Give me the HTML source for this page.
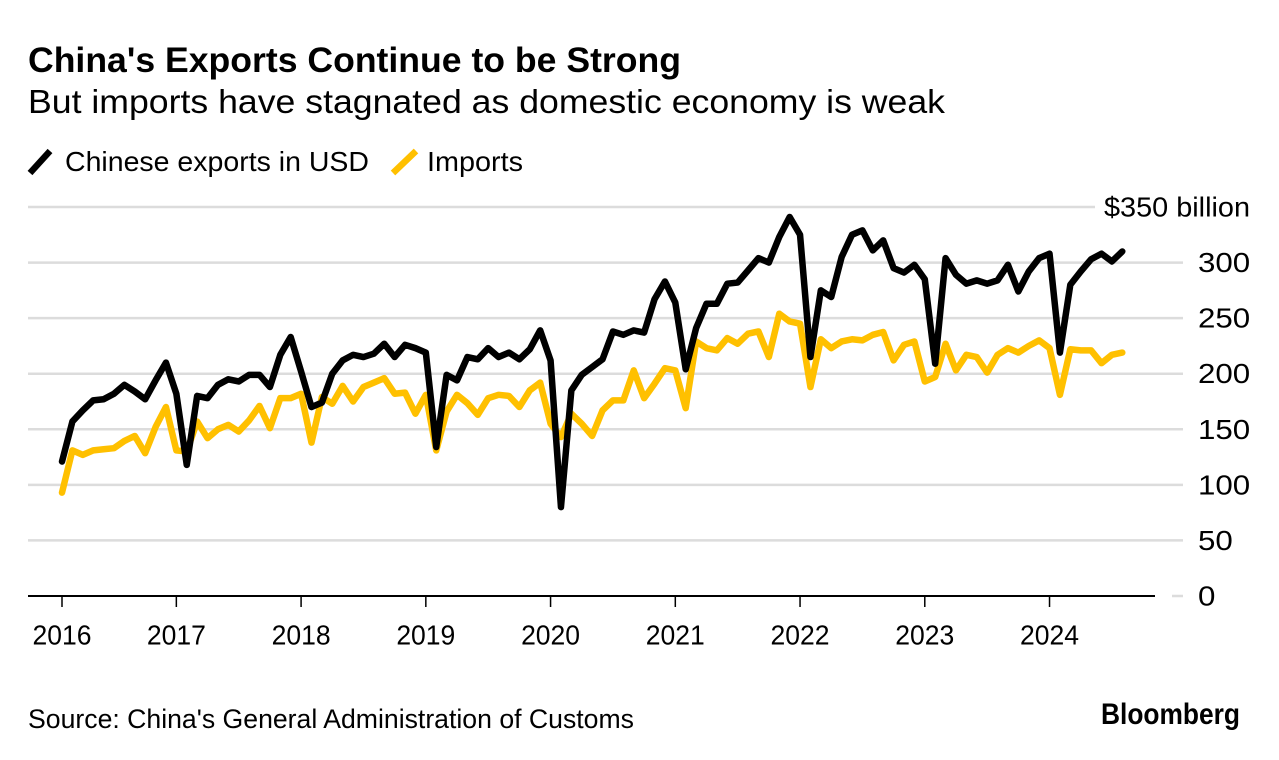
<!DOCTYPE html>
<html lang="en">
<head>
<meta charset="utf-8">
<title>China's Exports Continue to be Strong</title>
<style>
html,body{margin:0;padding:0;background:#fff;}
svg{display:block;font-family:"Liberation Sans",Arial,sans-serif;fill:#000;}
</style>
</head>
<body>
<svg id="chart" width="1279" height="760" viewBox="0 0 1279 760" xmlns="http://www.w3.org/2000/svg">
  <rect width="1279" height="760" fill="#fff"/>
  <text x="28" y="72" font-size="35" font-weight="700" textLength="653" lengthAdjust="spacingAndGlyphs">China's Exports Continue to be Strong</text>
  <text x="28" y="113" font-size="33" textLength="917" lengthAdjust="spacingAndGlyphs">But imports have stagnated as domestic economy is weak</text>
  <g>
    <line x1="30" y1="173" x2="50" y2="151" stroke="#000" stroke-width="6.5"/>
    <text x="65" y="171" font-size="27.5" textLength="304" lengthAdjust="spacingAndGlyphs">Chinese exports in USD</text>
    <line x1="393" y1="173" x2="416" y2="151" stroke="#ffc000" stroke-width="6.5"/>
    <text x="427" y="171" font-size="27.5" textLength="96" lengthAdjust="spacingAndGlyphs">Imports</text>
  </g>
  <g id="grid"></g>
  <g id="xaxis"></g>
  <g id="yaxis"></g>
  <g id="series"></g>
  <text x="28" y="728" font-size="26.5" textLength="606" lengthAdjust="spacingAndGlyphs">Source: China's General Administration of Customs</text>
  <text x="1101" y="724" font-size="30" font-weight="700" textLength="139" lengthAdjust="spacingAndGlyphs">Bloomberg</text>
</svg>
<script>
var startYear = 2016;
var startMonth = 2;
var exportsUsd = [
  121,157,167,176,177,182,190,184,177,194,210,
  182,118,180,178,190,195,193,199,199,188,217,233,
  202,170,174,200,212,217,215,218,227,215,226,223,
  219,134,199,194,215,213,223,215,219,213,222,239,
  212,80,185,199,206,213,238,235,239,237,267,283,
  264,204,241,263,263,281,282,293,304,300,323,341,
  325,215,275,269,305,325,329,311,320,295,291,298,
  285,209,304,289,281,284,281,284,298,274,292,304,
  308,219,280,292,303,308,301,310
];
var importsUsd = [
  93,131,127,131,132,133,139.5,144,128.5,152,170,
  131,130,157,142,150,154,148,158,171,151,178,178,
  182,138,179,173,189,175,188,192,196,182,183,164,
  181,131,166,181,173.5,163,178,181,180,170,185,192,
  155,143,164,155,144,167,176,176,203,178,191,205,
  203,169,229,223,221,232,227,236,238,215,254,247,
  245,188,231,223,229,231,230,235,237.5,212,226,229,
  193,197,227,203,217,215,201,217,223,219,225,230,
  223,181,222,221,221,209.5,217,219
];
var yTickValues = [0,50,100,150,200,250,300,350];
var yTickLabels = ["0","50","100","150","200","250","300","$350 billion"];
var xTickIndexes = [0,11,23,35,47,59,71,83,95];
var xTickLabels = ["2016","2017","2018","2019","2020","2021","2022","2023","2024"];

var NS = "http://www.w3.org/2000/svg";
function xScale(i){ return 62 + (i * 10.395); }
function yScale(v){ return 596 - v * (389 / 350); }
function make(tag, attrs, parent){
  var el = document.createElementNS(NS, tag);
  for (var k in attrs) el.setAttribute(k, attrs[k]);
  parent.appendChild(el);
  return el;
}
var grid = document.getElementById("grid");
var xaxis = document.getElementById("xaxis");
var yaxis = document.getElementById("yaxis");
var series = document.getElementById("series");

yTickValues.forEach(function(v, i){
  var y = yScale(v);
  var isTop = i === yTickValues.length - 1;
  var isZero = v === 0;
  var line = make("line", {x1: isZero ? 1172 : 28, x2: isTop ? 1095 : 1183, y1: y, y2: y, stroke: "#dcdcdc", "stroke-width": 2.5}, grid);
  
  
  var t = make("text", {x: isTop ? 1104 : 1198, y: y + 9.5, "font-size": 27.5}, yaxis);
  
  
  t.textContent = yTickLabels[i];
  if (isTop) {
    t.setAttribute("textLength", 146);
    t.setAttribute("lengthAdjust", "spacingAndGlyphs");
  } else {
    t.setAttribute("textLength", yTickLabels[i].length * 17.4);
    t.setAttribute("lengthAdjust", "spacingAndGlyphs");
  }
});

var axisLine = make("line", {x1: 28, x2: 1155, y1: 596, y2: 596, stroke: "#000", "stroke-width": 2}, xaxis);



xTickIndexes.forEach(function(idx, i){
  var x = xScale(idx);
  var tick = make("line", {x1: x, x2: x, y1: 596, y2: 607, stroke: "#000", "stroke-width": 1.5}, xaxis);
  
  
  var t = make("text", {x: x - 29.5, y: 644.5, "font-size": 27.5, textLength: 59, lengthAdjust: "spacingAndGlyphs"}, xaxis);
  
  
  t.textContent = xTickLabels[i];
});

function linePath(values){
  return values.map(function(v, i){
    return (i ? "L" : "M") + xScale(i).toFixed(2) + " " + yScale(v).toFixed(2);
  }).join("");
}
var importsLine = make("path", {d: linePath(importsUsd), fill: "none", stroke: "#ffc000", "stroke-width": 6.5, "stroke-linejoin": "round", "stroke-linecap": "round"}, series);


var exportsLine = make("path", {d: linePath(exportsUsd), fill: "none", stroke: "#000", "stroke-width": 6.5, "stroke-linejoin": "round", "stroke-linecap": "round"}, series);


</script>
</body>
</html>
